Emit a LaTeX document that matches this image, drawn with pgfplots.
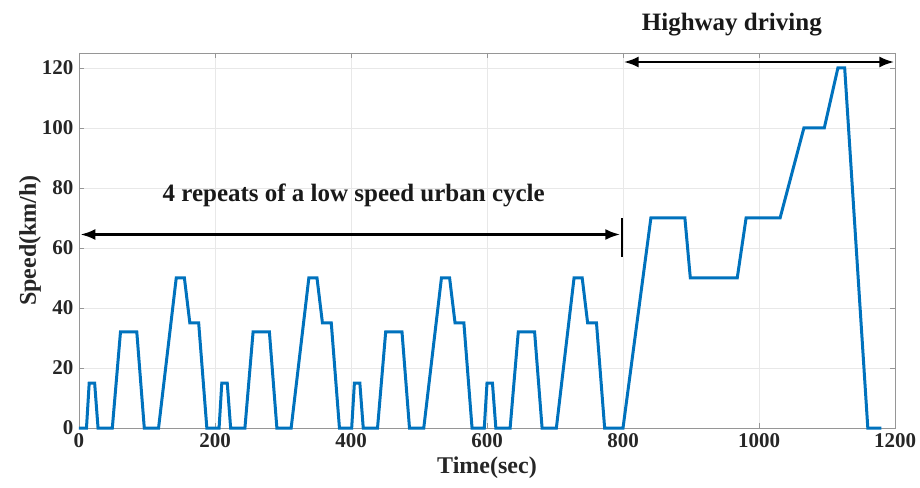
\documentclass[border=0pt]{standalone}
\usepackage{pgfplots}
\pgfplotsset{compat=1.18}
\usepackage{fontspec}
\setmainfont{Liberation Serif}
\usetikzlibrary{arrows.meta}
\definecolor{mblue}{RGB}{0,114,189}
\definecolor{gridgray}{RGB}{232,232,232}
\definecolor{boxgray}{RGB}{150,150,150}

\begin{document}
\begin{tikzpicture}
\useasboundingbox (-79pt,-59pt) rectangle (841pt,428pt);
\begin{axis}[
  at={(0,0)}, anchor=south west,
  scale only axis,
  width=816pt, height=375pt,
  xmin=0, xmax=1200, ymin=0, ymax=125,
  xtick={0,200,...,1200}, ytick={0,20,...,120},
  grid=major,
  major grid style={gridgray, line width=0.6pt},
  axis line style={boxgray, line width=0.8pt},
  tick align=inside,
  tick pos=both,
  major tick length=5pt,
  tick style={boxgray, line width=0.8pt},
  /pgf/number format/assume math mode=true,
  /pgf/number format/1000 sep={},
  ticklabel style={font=\bfseries\fontsize{21}{21}\selectfont, text=black!85},
  xticklabel style={yshift=-2pt},
  yticklabel style={xshift=-2pt},
  xlabel={Time(sec)},
  ylabel={Speed(km/h)},
  label style={font=\bfseries\fontsize{24}{24}\selectfont, text=black!85},
  xlabel style={yshift=-2pt},
  ylabel style={yshift=-6pt},
  clip=false,
]
% Four repeats of the urban cycle followed by the extra-urban part
\addplot[mblue, line width=3pt, line join=miter] coordinates {
  (0,0) (11,0) (15,15) (23,15) (28,0) (49,0) (61,32) (85,32) (96,0)
  (117,0) (143,50) (155,50) (163,35) (176,35) (188,0) (195,0)
  (206,0) (210,15) (218,15) (223,0) (244,0) (256,32) (280,32) (291,0)
  (312,0) (338,50) (350,50) (358,35) (371,35) (383,0) (390,0)
  (401,0) (405,15) (413,15) (418,0) (439,0) (451,32) (475,32) (486,0)
  (507,0) (533,50) (545,50) (553,35) (566,35) (578,0) (585,0)
  (596,0) (600,15) (608,15) (613,0) (634,0) (646,32) (670,32) (681,0)
  (702,0) (728,50) (740,50) (748,35) (761,35) (773,0) (780,0)
  (800,0) (841,70) (891,70) (899,50) (968,50) (981,70) (1031,70)
  (1066,100) (1096,100) (1116,120) (1126,120) (1160,0) (1180,0)
};
% Phase annotations
\draw[black, line width=2.6pt, {Latex[length=15pt,width=11pt]}-{Latex[length=15pt,width=11pt]}]
  (axis cs:2,64.5) -- (axis cs:796,64.5);
\draw[black, line width=1.8pt] (axis cs:798,57) -- (axis cs:798,70);
\node[font=\bfseries\fontsize{25}{25}\selectfont, text=black!90]
  at (axis cs:404,77.5) {4 repeats of a low speed urban cycle};
\draw[black, line width=2.6pt, {Latex[length=15pt,width=11pt]}-{Latex[length=15pt,width=11pt]}]
  (axis cs:801,122) -- (axis cs:1199,122);
\node[font=\bfseries\fontsize{25}{25}\selectfont, text=black!90]
  at (axis cs:960,134.5) {Highway driving};
\end{axis}
\end{tikzpicture}
\end{document}
